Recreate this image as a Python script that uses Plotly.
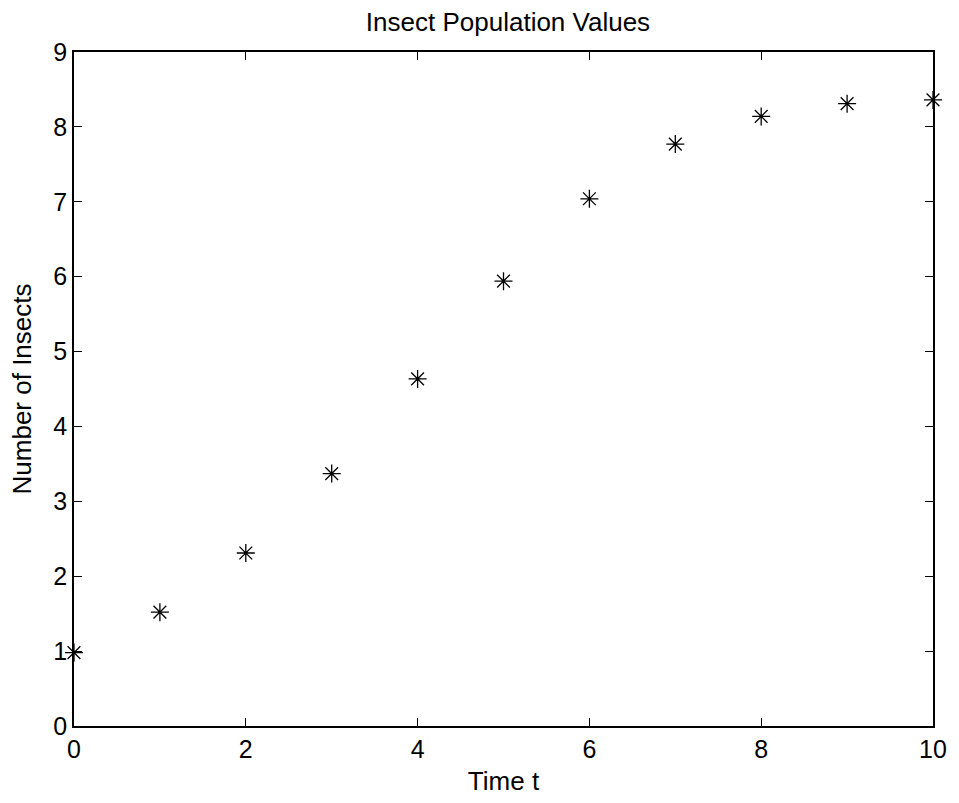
import plotly.graph_objects as go

t_values = [0, 1, 2, 3, 4, 5, 6, 7, 8, 9, 10]
insects = [0.98, 1.52, 2.31, 3.37, 4.635, 5.94, 7.04, 7.77, 8.14, 8.31, 8.36]
x_ticks = [0, 2, 4, 6, 8, 10]
y_ticks = [0, 1, 2, 3, 4, 5, 6, 7, 8, 9]

fig = go.Figure()
fig.add_trace(go.Scatter(
    x=t_values, y=insects, mode="markers",
    marker=dict(symbol="asterisk-open", size=15, color="black",
                line=dict(color="black", width=1.3)),
    cliponaxis=False, showlegend=False,
))

font = "Liberation Sans, Arial, Helvetica, sans-serif"
axis_common = dict(
    showgrid=False, zeroline=False, showline=True, linecolor="black",
    linewidth=1.5, mirror="ticks", ticks="inside", ticklen=8,
    tickcolor="black", tickwidth=1,
    tickfont=dict(family=font, size=25, color="black"),
)
W, H = 959, 803
fig.update_layout(
    width=W, height=H,
    margin=dict(l=74, r=17, t=52, b=66),
    paper_bgcolor="white", plot_bgcolor="white",
    title=dict(text="Insect Population Values", x=508 / W, xanchor="center",
               y=1 - 22 / H, yanchor="middle",
               font=dict(family=font, size=26, color="black")),
    xaxis=dict(range=[0, 10], tickvals=x_ticks,
               title=dict(text="Time t", standoff=10,
                          font=dict(family=font, size=26, color="black")),
               **axis_common),
    yaxis=dict(range=[0, 9], tickvals=y_ticks,
               title=dict(text="Number of Insects", standoff=14,
                          font=dict(family=font, size=26, color="black")),
               **axis_common),
)
fig.write_html(
    "out.html",
    config={"displayModeBar": False},
    post_script="document.body.style.margin='0';document.body.style.overflow='hidden';",
)
